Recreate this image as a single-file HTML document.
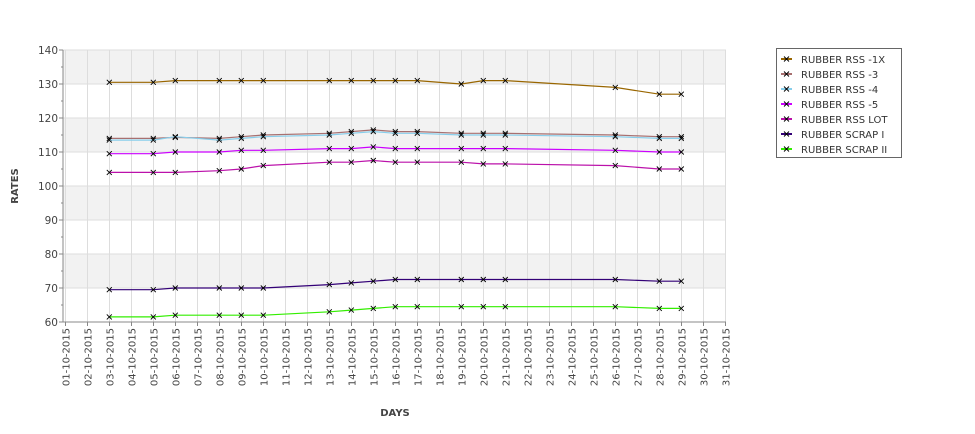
<!DOCTYPE html>
<html><head><meta charset="utf-8"><style>
body{margin:0;background:#fff}
svg text{font-family:"DejaVu Sans","Liberation Sans",sans-serif}
</style></head><body>
<svg id="c" width="975" height="429" shape-rendering="crispEdges"></svg>
<script>
const days=[3,5,6,8,9,10,13,14,15,16,17,19,20,21,26,28,29];
const seriesNames=["RUBBER RSS -1X","RUBBER RSS -3","RUBBER RSS -4","RUBBER RSS -5","RUBBER RSS LOT","RUBBER SCRAP I","RUBBER SCRAP II"];
const rss1x=[130.5,130.5,131,131,131,131,131,131,131,131,131,130,131,131,129,127,127];
const rss3=[114,114,114.3,114,114.5,115,115.5,116,116.5,116,116,115.5,115.5,115.5,115,114.5,114.5];
const rss4=[113.5,113.5,114.5,113.5,114,114.5,115,115.5,116,115.5,115.5,115,115,115,114.5,114,114];
const rss5=[109.5,109.5,110,110,110.5,110.5,111,111,111.5,111,111,111,111,111,110.5,110,110];
const rssLot=[104,104,104,104.5,105,106,107,107,107.5,107,107,107,106.5,106.5,106,105,105];
const scrap1=[69.5,69.5,70,70,70,70,71,71.5,72,72.5,72.5,72.5,72.5,72.5,72.5,72,72];
const scrap2=[61.5,61.5,62,62,62,62,63,63.5,64,64.5,64.5,64.5,64.5,64.5,64.5,64,64];
const yTicks=[60,70,80,90,100,110,120,130,140];
const colors=["#996600","#a87070","#87ceeb","#cc00ff","#bb11aa","#330077","#33ee00"];
const allSeries=[rss1x,rss3,rss4,rss5,rssLot,scrap1,scrap2];
const NS="http://www.w3.org/2000/svg",svg=document.getElementById('c');
const L=63,R=726,T=50,B=322;
const x=d=>65.3+(d-1)*22;
const y=v=>T+(140-v)*(B-T)/80;
function mk(t,a,p){const e=document.createElementNS(NS,t);for(const k in a)e.setAttribute(k,a[k]);(p||svg).appendChild(e);return e;}
for(let v=130;v>=70;v-=20){const r=mk('rect',{x:L,y:y(v+10),width:R-L,height:y(v)-y(v+10),fill:'#f2f2f2'});

}
for(let d=1;d<=31;d++){mk('line',{x1:x(d),x2:x(d),y1:T,y2:B,stroke:'#dddddd'});}
for(let v=60;v<=140;v+=10){mk('line',{x1:L,x2:R,y1:y(v),y2:y(v),stroke:'#dddddd'});}
mk('line',{x1:L,x2:L,y1:T,y2:B,stroke:'#888'});
mk('line',{x1:L,x2:R,y1:B,y2:B,stroke:'#888'});
for(let v=60;v<=140;v+=5){mk('line',{x1:L-(v%10?2:4),x2:L,y1:y(v),y2:y(v),stroke:'#888'});}
yTicks.forEach(v=>{const t=mk('text',{x:L-5,y:y(v)+4,'text-anchor':'end','font-size':10.5,fill:'#444'});t.textContent=v;

});
for(let d=1;d<=31;d++){mk('line',{x1:x(d),x2:x(d),y1:B,y2:B+4,stroke:'#888'});
const t=mk('text',{x:0,y:0,'text-anchor':'end','font-size':10,fill:'#444',transform:`translate(${x(d)+4},${B+6}) rotate(-90)`});
t.textContent=String(d).padStart(2,'0')+'-10-2015';

}
let t=mk('text',{x:0,y:0,'font-size':10,'font-weight':'bold','text-anchor':'middle',fill:'#444',transform:'translate(18,186) rotate(-90)'});t.textContent='RATES';


t=mk('text',{x:395,y:416,'font-size':10,'font-weight':'bold','text-anchor':'middle',fill:'#444'});t.textContent='DAYS';


function cross(cx,cy,g){mk('path',{d:`M${cx-2.5},${cy-2.5}L${cx+2.5},${cy+2.5}M${cx-2.5},${cy+2.5}L${cx+2.5},${cy-2.5}`,stroke:'#000','stroke-width':0.9,'shape-rendering':'auto'},g);}
allSeries.forEach((s,i)=>{const g=mk('g',{});


mk('polyline',{points:s.map((v,j)=>x(days[j])+','+y(v)).join(' '),fill:'none',stroke:colors[i],'stroke-width':1.2,'shape-rendering':'auto'},g);
s.forEach((v,j)=>cross(x(days[j]),y(v),g));});
const lg=mk('g',{});


mk('rect',{x:776.5,y:48.5,width:125,height:109,fill:'#fff',stroke:'#666'},lg);
seriesNames.forEach((n,i)=>{const yy=59+i*15;
const e=mk('g',{},lg);


mk('line',{x1:781,x2:792,y1:yy,y2:yy,stroke:colors[i],'stroke-width':2},e);cross(786.5,yy,e);
const tx=mk('text',{x:801,y:yy+4,'font-size':10,fill:'#333'},e);tx.textContent=n;});
</script>
</body></html>
